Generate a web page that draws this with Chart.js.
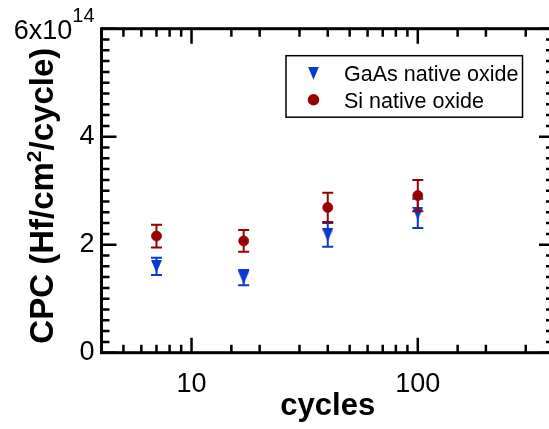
<!DOCTYPE html>
<html>
<head>
<meta charset="utf-8">
<script src="https://cdn.jsdelivr.net/npm/chart.js@4.4.0/dist/chart.umd.min.js"></script>
<style>
  html, body { margin: 0; padding: 0; background: #fff; overflow: hidden; }
  canvas { display: block; }
</style>
</head>
<body>
<canvas id="myChart" width="570" height="429"></canvas>
<script>
// values in units of 1e14 Hf/cm2/cycle
const cycles = [7, 17, 40, 100];
const gaasCPC = [1.60, 1.39, 2.18, 2.58];
const gaasErr = [0.16, 0.14, 0.22, 0.27];
const siCPC = [2.16, 2.07, 2.69, 2.91];
const siErr = [0.21, 0.20, 0.27, 0.29];
const xTickLabels = [10, 100];
const yTickLabels = [0, 2, 4];
const yTopLabel = '6x10';
const yTopExponent = '14';

const FONT = "'Liberation Sans', Arial, Helvetica, sans-serif";
const BLUE = '#0a3acb';
const RED = '#990000';

const toPoints = (xs, ys) => xs.map((x, i) => ({ x: x, y: ys[i] }));

// slightly tall, downward triangle marker
function triangleMarker(w, h, color) {
  const c = document.createElement('canvas');
  c.width = w; c.height = h;
  const g = c.getContext('2d');
  g.fillStyle = color;
  g.beginPath();
  g.moveTo(0, 0); g.lineTo(w, 0); g.lineTo(w / 2, h);
  g.closePath();
  g.fill();
  return c;
}
const downTriangle = triangleMarker(11, 13, BLUE);

// error bars drawn under each dataset's markers
const errorBars = {
  id: 'errorBars',
  beforeDatasetDraw(chart, args) {
    const ds = chart.data.datasets[args.index];
    if (!ds.errors) return;
    const ctx = chart.ctx;
    const ys = chart.scales.y;
    ctx.save();
    ctx.strokeStyle = ds.borderColor;
    ctx.lineWidth = 2;
    args.meta.data.forEach((pt, i) => {
      const v = ds.data[i].y, e = ds.errors[i];
      const top = ys.getPixelForValue(v + e);
      const bot = ys.getPixelForValue(v - e);
      ctx.beginPath();
      ctx.moveTo(pt.x, top); ctx.lineTo(pt.x, bot);
      ctx.moveTo(pt.x - 5.5, top); ctx.lineTo(pt.x + 5.5, top);
      ctx.moveTo(pt.x - 5.5, bot); ctx.lineTo(pt.x + 5.5, bot);
      ctx.stroke();
    });
    ctx.restore();
  }
};

// frame, tick marks, exponent label, y title and legend box
const decorations = {
  id: 'decorations',
  afterDraw(chart) {
    const ctx = chart.ctx;
    const a = chart.chartArea;
    const xs = chart.scales.x, ys = chart.scales.y;
    ctx.save();
    ctx.strokeStyle = '#000';
    ctx.lineCap = 'butt';

    // tick marks
    ctx.lineWidth = 2.5;
    ctx.beginPath();
    xs.ticks.forEach(t => {
      const p = xs.getPixelForValue(t.value);
      const lg = Math.log10(t.value);
      const len = Math.abs(lg - Math.round(lg)) < 1e-6 ? 15 : 8;
      ctx.moveTo(p, a.bottom); ctx.lineTo(p, a.bottom - len);
      ctx.moveTo(p, a.top); ctx.lineTo(p, a.top + len);
    });
    const step = 0.2;
    const n = Math.round((ys.max - ys.min) / step);
    for (let i = 0; i <= n; i++) {
      const v = ys.min + i * step;
      const p = ys.getPixelForValue(v);
      const len = Math.abs(v / 2 - Math.round(v / 2)) < 1e-6 ? 15 : 8;
      ctx.moveTo(a.left, p); ctx.lineTo(a.left + len, p);
      ctx.moveTo(a.right, p); ctx.lineTo(a.right - len, p);
    }
    ctx.stroke();

    // frame
    ctx.lineWidth = 3;
    ctx.strokeRect(a.left, a.top, a.right - a.left, a.bottom - a.top);

    // top y label with exponent
    ctx.fillStyle = '#000';
    ctx.textBaseline = 'alphabetic';
    const yTop = ys.getPixelForValue(ys.max);
    ctx.font = '20px ' + FONT;
    ctx.textAlign = 'right';
    ctx.fillText(yTopExponent, a.left - 7, yTop - 7);
    const ew = ctx.measureText(yTopExponent).width;
    ctx.font = '27px ' + FONT;
    ctx.fillText(yTopLabel, a.left - 7 - ew, yTop + 10.5);

    // y title, rotated, with superscript 2
    const cy = (a.top + a.bottom) / 2 + 5;
    const parts = [
      { t: 'CPC (Hf/cm', f: 'bold 33px ' + FONT, dy: 0 },
      { t: '2', f: 'bold 21px ' + FONT, dy: -12 },
      { t: '/cycle)', f: 'bold 33px ' + FONT, dy: 0 }
    ];
    let total = 0;
    parts.forEach(p => { ctx.font = p.f; p.w = ctx.measureText(p.t).width; total += p.w; });
    ctx.translate(53, cy);
    ctx.rotate(-Math.PI / 2);
    ctx.textAlign = 'left';
    let cx = -total / 2;
    parts.forEach(p => { ctx.font = p.f; ctx.fillText(p.t, cx, p.dy); cx += p.w; });
    ctx.setTransform(1, 0, 0, 1, 0, 0);

    // legend
    const lx = a.right - 268, ly = a.top + 27, lw = 236.5, lh = 61.5;
    ctx.lineWidth = 1.5;
    ctx.fillStyle = '#fff';
    ctx.fillRect(lx, ly, lw, lh);
    ctx.strokeRect(lx, ly, lw, lh);
    chart.data.datasets.forEach((ds, i) => {
      const my = ly + 17.5 + i * 26.5;
      ctx.fillStyle = ds.backgroundColor;
      ctx.strokeStyle = ds.borderColor;
      Chart.helpers.drawPoint(ctx, {
        pointStyle: ds.pointStyle, rotation: 0,
        radius: ds.pointRadius, borderWidth: ds.pointBorderWidth
      }, lx + 27.5, my);
      ctx.fillStyle = '#000';
      ctx.font = '21.5px ' + FONT;
      ctx.textAlign = 'left';
      ctx.fillText(ds.label, lx + 58, my + 7.8);
    });
    ctx.restore();
  }
};

new Chart(document.getElementById('myChart'), {
  type: 'scatter',
  data: {
    datasets: [
      {
        label: 'GaAs native oxide',
        data: toPoints(cycles, gaasCPC),
        errors: gaasErr,
        backgroundColor: BLUE,
        borderColor: BLUE,
        pointStyle: downTriangle,
        pointRadius: 6.5,
        pointBorderWidth: 0,
        order: 1
      },
      {
        label: 'Si native oxide',
        data: toPoints(cycles, siCPC),
        errors: siErr,
        backgroundColor: RED,
        borderColor: RED,
        pointStyle: 'circle',
        pointRadius: 5,
        pointBorderWidth: 0.8,
        order: 0
      }
    ]
  },
  options: {
    responsive: false,
    animation: false,
    devicePixelRatio: 1,
    layout: { padding: { top: 28.7, right: 15.2, left: 0, bottom: 0 } },
    plugins: { legend: { display: false }, tooltip: { enabled: false } },
    scales: {
      x: {
        type: 'logarithmic',
        min: 4,
        max: 400,
        grid: { display: false, drawTicks: false },
        border: { display: false },
        ticks: {
          autoSkip: false,
          maxRotation: 0,
          minRotation: 0,
          color: '#000',
          padding: 16,
          font: { family: FONT, size: 27 },
          callback: v => xTickLabels.some(t => Math.abs(t - v) < 1e-9) ? String(v) : ''
        },
        title: {
          display: true,
          text: 'cycles',
          color: '#000',
          font: { family: FONT, size: 31, weight: 'bold' },
          padding: { top: 0, bottom: 4 }
        },
        afterFit: s => { s.height = 76.3; }
      },
      y: {
        min: 0,
        max: 6,
        grid: { display: false, drawTicks: false },
        border: { display: false },
        ticks: {
          stepSize: 2,
          color: '#000',
          padding: 7,
          font: { family: FONT, size: 27 },
          callback: v => yTickLabels.includes(v) ? String(v) : ''
        },
        afterFit: s => { s.width = 101.5; }
      }
    }
  },
  plugins: [errorBars, decorations]
});
</script>
</body>
</html>
